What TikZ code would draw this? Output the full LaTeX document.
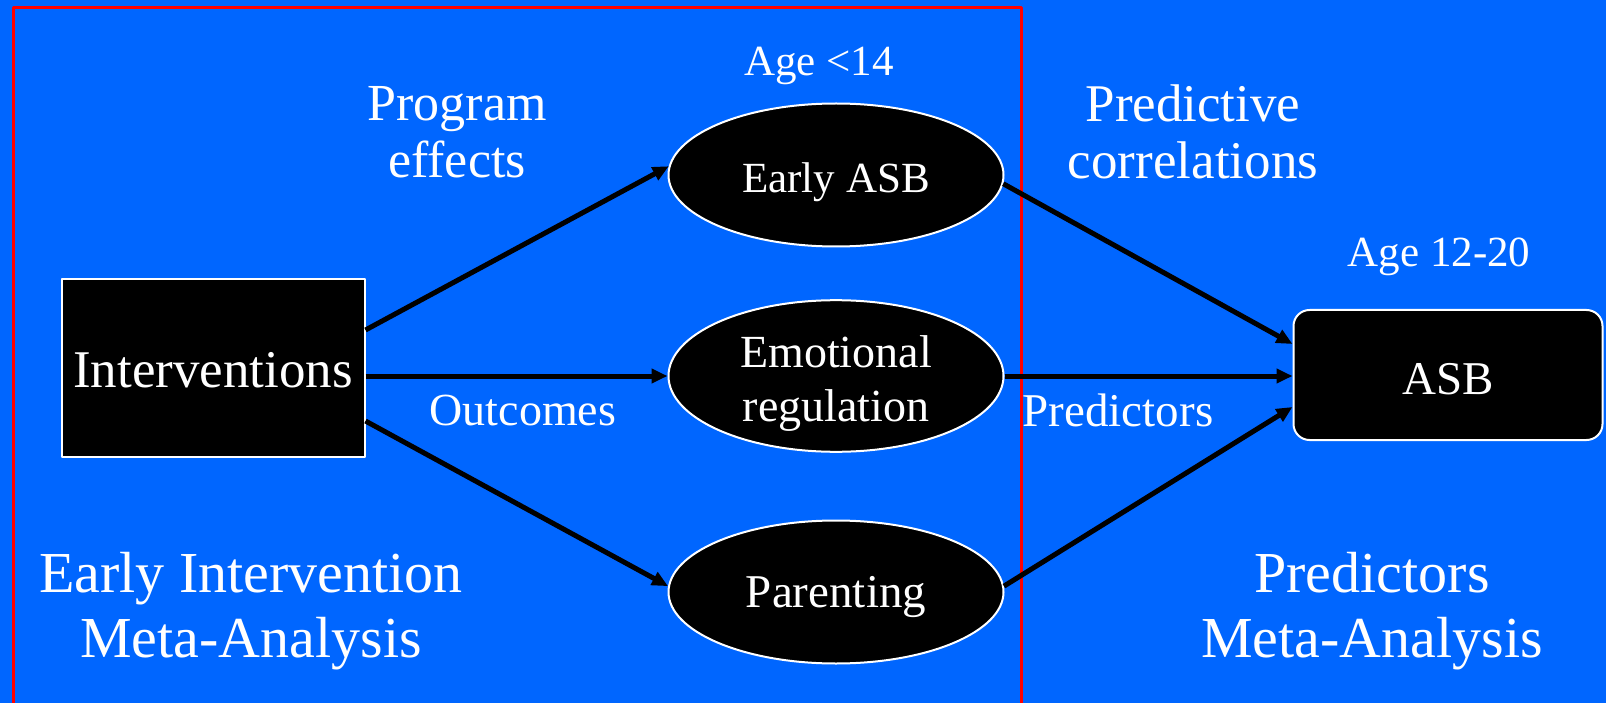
\documentclass[tikz,border=0pt]{standalone}
\usepackage{fontspec}
\setmainfont{Liberation Serif}
\usetikzlibrary{arrows.meta,shapes.geometric}

\definecolor{slideblue}{RGB}{0,102,255}

% lower a node text without changing the node's size
\newcommand{\sinktext}[2]{\raisebox{-#1}[\height][\depth]{#2}}

\begin{document}
\begin{tikzpicture}[
    x=1pt, y=-1pt,          % one unit = one pixel, y pointing down
    line cap=round,
    line join=round,
    >={Triangle[length=16pt,width=14pt]},   % arrow tip style
    every node/.style={text=white, inner sep=0pt},
    bubble/.style={ellipse, draw=white, fill=black, line width=2pt,
                   minimum width=335pt, minimum height=143pt},
    block/.style={draw=white, fill=black, line width=2pt},
    link/.style={->, line width=5pt, line cap=butt, black}
]

%-----------------------
% 1) SLIDE BACKGROUND
%-----------------------
\useasboundingbox (0,0) rectangle (1606,703);
\fill[slideblue] (0,0) rectangle (1606,703);
\clip (0,0) rectangle (1606,703);

% red frame round the early intervention part (runs off the bottom)
\draw[red, line width=3pt] (13.5,7.5) rectangle (1021,720);

%-----------------------
% 2) BOXES AND ELLIPSES
%-----------------------
\node[block, minimum width=303pt, minimum height=178pt,
      font=\fontsize{53}{60}\selectfont] (interv) at (213,368) {\sinktext{2pt}{Interventions}};

\node[bubble, font=\fontsize{43}{50}\selectfont] (early) at (836,175) {\sinktext{7pt}{Early ASB}};
\node[bubble, font=\fontsize{46}{53.6}\selectfont] (emo) at (836,376)
  {\sinktext{8pt}{\begin{tabular}{@{}c@{}}Emotional\\regulation\end{tabular}}};
\node[bubble, font=\fontsize{47}{54}\selectfont] (par) at (836,592) {\sinktext{5pt}{Parenting}};

\node[block, rounded corners=16pt, minimum width=309pt, minimum height=130pt,
      font=\fontsize{47}{54}\selectfont] (asb) at (1448,375) {\sinktext{4pt}{ASB}};

%-----------------------
% 3) CONNECTORS
%-----------------------
\draw[link] ([yshift=38pt]interv.east) -- (early.177);
\draw[link] (interv.east |- emo.west) -- (emo.west);
\draw[link] ([yshift=-53pt]interv.east) -- (par.178);

\draw[link] (early.357) -- ([yshift=31pt]asb.west);
\draw[link] (emo.east) -- (asb.west |- emo.east);
\draw[link] (par.2) -- ([yshift=-32pt]asb.west);

%-----------------------
% 4) LABELS
%-----------------------
\node[align=center, font=\fontsize{52}{57.4}\selectfont] (prog) at (457,132) {Program\\effects};
\node[font=\fontsize{43}{50}\selectfont] (young) at (819,65.5) {Age <14};
\node[align=center, font=\fontsize{53}{57.4}\selectfont] (pred) at (1193,132) {Predictive\\correlations};
\node[font=\fontsize{43}{50}\selectfont] (older) at (1439,257) {Age 12-20};
\node[font=\fontsize{46}{53}\selectfont] (outc) at (523,410) {Outcomes};
\node[font=\fontsize{47}{54}\selectfont] (predlbl) at (1118,410) {Predictors};

\node[align=center, font=\fontsize{58}{64.5}\selectfont] (eima) at (251,611) {Early Intervention\\Meta-Analysis};
\node[align=center, font=\fontsize{58}{64.5}\selectfont] (prma) at (1372,611) {Predictors\\Meta-Analysis};

\end{tikzpicture}
\end{document}
